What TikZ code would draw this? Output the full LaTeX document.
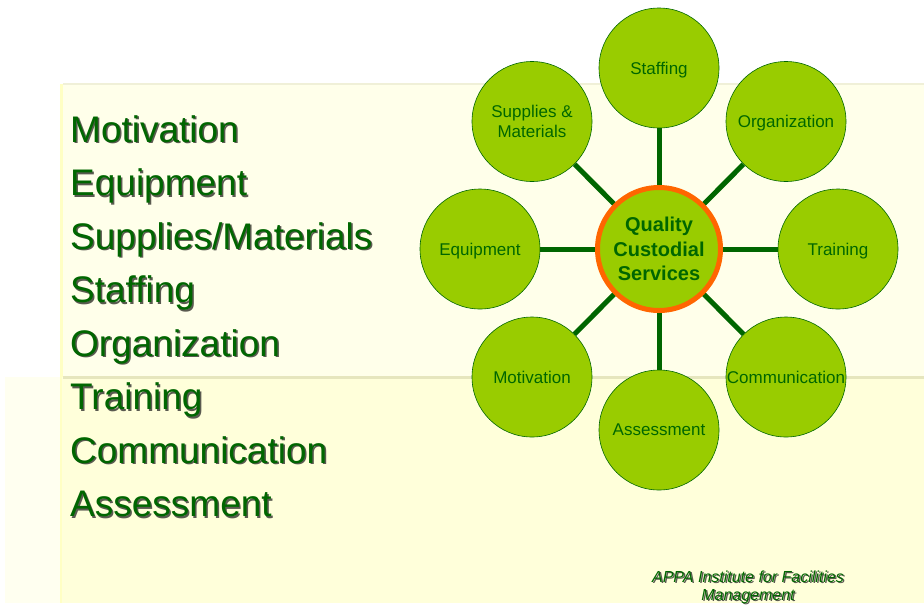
\documentclass[tikz,border=0pt]{standalone}
\usepackage{fontspec}
\setmainfont{Liberation Sans}
\usetikzlibrary{backgrounds}
\definecolor{tgreen}{HTML}{006600}
\definecolor{cfill}{HTML}{99CC00}
\definecolor{corange}{HTML}{FF6600}
\definecolor{bgupper}{HTML}{FFFFEA}
\definecolor{bglowl}{HTML}{FFFFF0}
\definecolor{bglowr}{HTML}{FFFFDA}
\definecolor{bgedge}{HTML}{FFFFC4}
\definecolor{bgshade}{HTML}{E6E6BE}
\definecolor{shadowc}{HTML}{5A5A50}
\newcommand{\shtext}[1]{\makebox[0pt][l]{\raisebox{-1.5pt}{\hspace{1.5pt}\textcolor{shadowc}{#1}}}\textcolor{tgreen}{#1}}
\pgfdeclarelayer{bglayer}
\pgfdeclarelayer{edgelayer}
\pgfsetlayers{bglayer,edgelayer,main}
\tikzset{
  x=1pt,y=-1pt,
  outer/.style={circle,draw=tgreen,line width=0.6pt,fill=cfill,minimum size=120pt,inner sep=0pt,
    text=tgreen,font=\fontsize{17}{20}\selectfont,align=center,text depth=0pt},
  hub/.style={circle,draw=corange,line width=5pt,fill=cfill,minimum size=123pt,inner sep=0pt,
    text=tgreen,font=\bfseries\fontsize{20}{24.5}\selectfont,align=center},
  spoke/.style={draw=tgreen,line width=5pt},
  listitem/.style={anchor=base west,inner sep=0pt,font=\fontsize{37}{44}\selectfont},
  foot/.style={anchor=base,inner sep=0pt,font=\itshape\fontsize{16}{18}\selectfont}
}
\begin{document}
\begin{tikzpicture}
\useasboundingbox (0,0) rectangle (924,606);
\begin{pgfonlayer}{bglayer}
  \fill[white] (0,0) rectangle (924,606);
  \fill[bgupper] (60,84) rectangle (924,377);
  \fill[bgedge] (60,84) rectangle (63,377);
  \fill[bglowl] (5,377) rectangle (60,603);
  \fill[bglowr] (60,377) rectangle (924,603);
  \fill[bgedge] (60,377) rectangle (62,603);
  \fill[bgshade] (63,376) rectangle (924,379);
  \fill[bgshade!60] (63,83) rectangle (924,85);
\end{pgfonlayer}

% left list
\node[listitem] (l1) at (70,142) {\shtext{Motivation}};
\node[listitem] (l2) at (70,195.5) {\shtext{Equipment}};
\node[listitem] (l3) at (70,249) {\shtext{Supplies/Materials}};
\node[listitem] (l4) at (70,302.5) {\shtext{Staffing}};
\node[listitem] (l5) at (70,356) {\shtext{Organization}};
\node[listitem] (l6) at (70,409.5) {\shtext{Training}};
\node[listitem] (l7) at (70,463) {\shtext{Communication}};
\node[listitem] (l8) at (70,516.5) {\shtext{Assessment}};

% hub and spokes
\node[hub] (hub) at (659,249) {Quality\\Custodial\\Services};
\node[outer] (staff) at (659,68) {Staffing};
\node[outer] (org) at (786,121.5) {Organization};
\node[outer] (train) at (838,249) {Training};
\node[outer] (comm) at (786,377) {Communication};
\node[outer] (assess) at (659,430) {Assessment};
\node[outer] (motiv) at (532,377) {Motivation};
\node[outer] (equip) at (480,249) {Equipment};
\node[outer] (supp) at (532,121.5) {Supplies \&\\Materials};

\begin{pgfonlayer}{edgelayer}
  \foreach \n in {staff,org,train,comm,assess,motiv,equip,supp}
    \draw[spoke] (hub.center) -- (\n);
\end{pgfonlayer}

% footer
\node[foot] (f1) at (748,582) {\shtext{APPA Institute for Facilities}};
\node[foot] (f2) at (748,600) {\shtext{Management}};
\end{tikzpicture}
\end{document}
